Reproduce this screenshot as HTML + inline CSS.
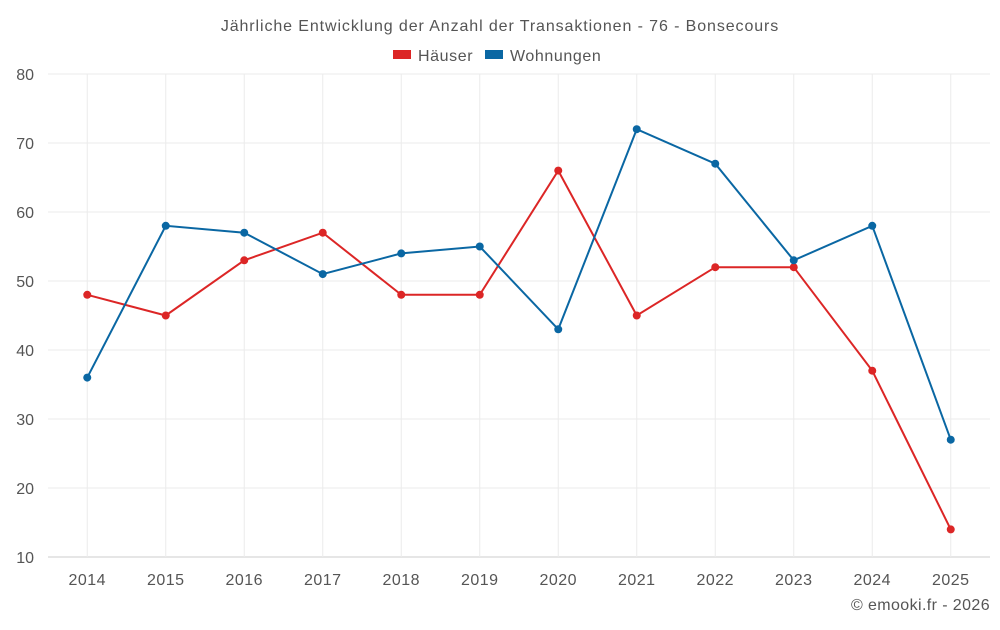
<!DOCTYPE html>
<html><head><meta charset="utf-8"><style>
body{margin:0;background:#fff;font-family:"Liberation Sans",sans-serif}
svg text{font-family:"Liberation Sans",sans-serif}
</style></head><body>
<svg id="c" width="1000" height="625">
<text x="500" y="31" text-anchor="middle" font-size="16" letter-spacing="0.9" fill="#555">Jährliche Entwicklung der Anzahl der Transaktionen - 76 - Bonsecours</text>
<g>
<g><rect x="393" y="50" width="18" height="9" fill="#dc2626"/><text x="418" y="61" font-size="16" letter-spacing="0.6" fill="#555">Häuser</text></g>
<g><rect x="485" y="50" width="18" height="9" fill="#0a67a3"/><text x="510" y="61" font-size="16" letter-spacing="0.6" fill="#555">Wohnungen</text></g>
</g>
<g id="grid"></g><g id="axes"></g><g id="series"></g>
<text x="990" y="610" text-anchor="end" font-size="16" letter-spacing="0.4" fill="#555">© emooki.fr - 2026</text>
</svg>
<script>
const years=["2014","2015","2016","2017","2018","2019","2020","2021","2022","2023","2024","2025"];
const haeuser=[48,45,53,57,48,48,66,45,52,52,37,14];
const wohnungen=[36,58,57,51,54,55,43,72,67,53,58,27];
const yTicks=[10,20,30,40,50,60,70,80];
const L=48,R=990,T=74,B=557,yMin=10,yMax=80;
const bw=(R-L)/years.length;
const x=i=>L+bw*(i+0.5);
const y=v=>B-(v-yMin)/(yMax-yMin)*(B-T);
const NS="http://www.w3.org/2000/svg";
function mk(t,a,p){const e=document.createElementNS(NS,t);for(const k in a)e.setAttribute(k,a[k]);p.appendChild(e);return e;}
const g=document.getElementById('grid'),ax=document.getElementById('axes'),s=document.getElementById('series');
yTicks.forEach(v=>{
 const l=mk('line',{x1:L,x2:R,y1:y(v),y2:y(v),stroke:v===yMin?'#ccc':'#ebebeb'},g);
 
 
 const t=mk('text',{x:34,y:y(v)+6,'text-anchor':'end','font-size':16,fill:'#555'},ax);
 t.textContent=v;
 
 
});
years.forEach((yr,i)=>{
 const l=mk('line',{x1:x(i),x2:x(i),y1:T,y2:B,stroke:'#ebebeb'},g);
 
 
 const t=mk('text',{x:x(i),y:585,'text-anchor':'middle','font-size':16,'letter-spacing':0.5,fill:'#555'},ax);
 t.textContent=yr;
 
 
});
[[haeuser,'#dc2626','haeuser'],[wohnungen,'#0a67a3','wohnungen']].forEach(([d,c,n])=>{
 const p=mk('polyline',{points:d.map((v,i)=>x(i)+','+y(v)).join(' '),fill:'none',stroke:c,'stroke-width':2},s);
 
 
 d.forEach((v,i)=>{
  const m=mk('circle',{cx:x(i),cy:y(v),r:4,fill:c},s);
  
  
 });
});
</script>
</body></html>
